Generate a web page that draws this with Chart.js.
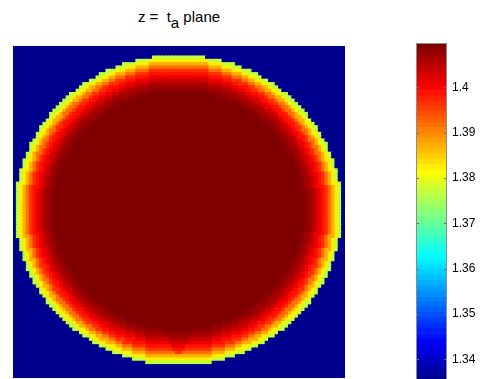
<!DOCTYPE html>
<html>
<head>
<meta charset="utf-8">
<script src="https://cdn.jsdelivr.net/npm/chart.js@4.4.0/dist/chart.umd.min.js"></script>
<style>
  html, body { margin: 0; padding: 0; background: #fff; width: 483px; height: 379px; overflow: hidden; }
  #title { position: absolute; left: 0; top: 8px; width: 358px; text-align: center;
           font: 15px "Liberation Sans", Arial, sans-serif; color: #000; white-space: pre; line-height: 17px; }
  #title .sub { position: relative; top: 6px; }
  #map { position: absolute; left: 10px; top: 43px; }
  #bar { position: absolute; left: 416px; top: 43px; }
</style>
</head>
<body>
<div id="title">z =  t<span class="sub">a</span> plane</div>
<canvas id="map" width="338" height="338"></canvas>
<canvas id="bar" width="67" height="338"></canvas>
<script>
// --- data ---
const gridSize = 100;                       // cells per side of the image
const colorLimits = [1.3352, 1.4098];       // colour axis range
const outsideValue = 1.3352;                // value outside the disc
const coreValue = 1.4098;                   // value in the core
// value per cell step inward from the disc edge
const ringProfile = [1.377, 1.382, 1.387, 1.392, 1.396, 1.399, 1.4015,
                     1.4035, 1.4055, 1.407, 1.408, 1.409];
const discCenter = [50.0, 49.6];            // in cells
const discRadii = [49.3, 46.8];             // in cells
const colorbarTicks = [1.34, 1.35, 1.36, 1.37, 1.38, 1.39, 1.4];
const jetLevels = 64;

// MATLAB style jet colormap
function jet(k) { // k: 0..63
  const n = 16;
  const u = j => (j < 1 || j > 47) ? 0 : (j <= n ? j / n : (j < 32 ? 1 : (48 - j) / n));
  const i = k + 1;
  const r = u(i - 24), g = u(i - 8), b = u(i + 8);
  return 'rgb(' + Math.round(r * 255) + ',' + Math.round(g * 255) + ',' + Math.round(b * 255) + ')';
}
function colorFor(v) {
  let k = Math.floor((v - colorLimits[0]) / (colorLimits[1] - colorLimits[0]) * jetLevels);
  k = Math.max(0, Math.min(jetLevels - 1, k));
  return jet(k);
}

// build the cell table
const cells = [];
const cellColors = [];
const rAvg = (discRadii[0] + discRadii[1]) / 2;
for (let j = 0; j < gridSize; j++) {
  for (let i = 0; i < gridSize; i++) {
    const x = i + 0.5, y = j + 0.5;
    const rho = Math.hypot((x - discCenter[0]) / discRadii[0], (y - discCenter[1]) / discRadii[1]);
    let v = outsideValue;
    if (rho <= 1) {
      const d = Math.floor((1 - rho) * rAvg);
      v = d < ringProfile.length ? ringProfile[d] : coreValue;
    }
    cells.push({ x: x, y: y, v: v });
    cellColors.push(colorFor(v));
  }
}

new Chart(document.getElementById('map'), {
  type: 'scatter',
  data: {
    datasets: [{
      data: cells,
      backgroundColor: cellColors,
      borderWidth: 0,
      pointStyle: 'rect',
      pointRadius: 3.1,
      pointHoverRadius: 3.1
    }]
  },
  options: {
    responsive: false,
    devicePixelRatio: 1,
    animation: false,
    events: [],
    layout: { padding: 0 },
    plugins: { legend: { display: false }, tooltip: { enabled: false } },
    scales: {
      x: { type: 'linear', min: 0, max: gridSize, display: false },
      y: { type: 'linear', min: 0, max: gridSize, reverse: true, display: false }
    }
  }
});

// colour bar: one floating bar per colormap level
const step = (colorLimits[1] - colorLimits[0]) / jetLevels;
const barSets = [];
for (let k = 0; k < jetLevels; k++) {
  barSets.push({
    data: [[colorLimits[0] + k * step, colorLimits[0] + (k + 1) * step]],
    backgroundColor: jet(k),
    borderWidth: 0,
    grouped: false,
    barPercentage: 1,
    categoryPercentage: 1
  });
}

const barFrame = {
  id: 'barFrame',
  afterDraw(chart) {
    const ctx = chart.ctx, a = chart.chartArea, ys = chart.scales.y;
    ctx.save();
    ctx.strokeStyle = '#6e6e6e';
    ctx.lineWidth = 1;
    colorbarTicks.forEach(t => {
      const py = Math.round(ys.getPixelForValue(t)) + 0.5;
      ctx.beginPath();
      ctx.moveTo(a.left, py); ctx.lineTo(a.left + 3, py);
      ctx.moveTo(a.right - 3, py); ctx.lineTo(a.right, py);
      ctx.stroke();
    });
    ctx.strokeStyle = '#8c8c8c';
    ctx.strokeRect(a.left + 0.5, a.top + 0.5, a.right - a.left - 1, a.bottom - a.top - 1);
    ctx.restore();
  }
};

new Chart(document.getElementById('bar'), {
  type: 'bar',
  data: { labels: [''], datasets: barSets },
  options: {
    responsive: false,
    devicePixelRatio: 1,
    animation: false,
    events: [],
    layout: { padding: 0 },
    plugins: { legend: { display: false }, tooltip: { enabled: false } },
    scales: {
      x: { display: false },
      y: {
        position: 'right',
        min: colorLimits[0],
        max: colorLimits[1],
        grid: { display: false, drawTicks: false },
        border: { display: false },
        afterBuildTicks(scale) { scale.ticks = colorbarTicks.map(v => ({ value: v })); },
        afterFit(scale) { scale.width = 36; scale.paddingTop = 0; scale.paddingBottom = 0; },
        ticks: {
          padding: 5,
          color: '#000',
          font: { family: '"Liberation Sans", Arial, sans-serif', size: 12 },
          callback: v => String(Number(v.toFixed(2)))
        }
      }
    }
  },
  plugins: [barFrame]
});
</script>
</body>
</html>
